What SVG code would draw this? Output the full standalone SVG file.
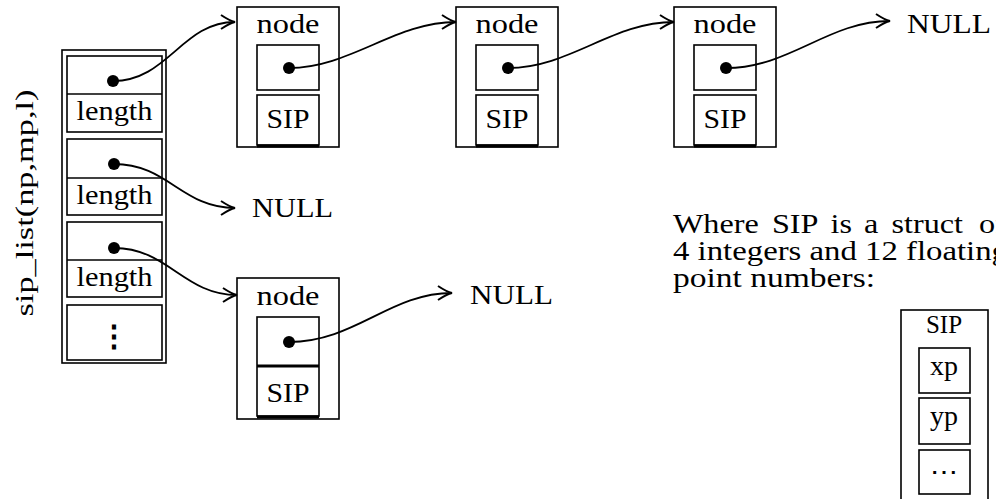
<svg xmlns="http://www.w3.org/2000/svg" width="996" height="499" viewBox="0 0 996 499">
<style>
.t{font-family:"Liberation Serif","DejaVu Serif",serif;fill:#000;}
.box{fill:none;stroke:#000;stroke-width:1.6;}
.thick{fill:none;stroke:#000;stroke-width:3;}
.dot{fill:#000;}
.conn{fill:none;stroke:#000;stroke-width:1.8;}
</style>
<defs>
<marker id="arr" markerUnits="userSpaceOnUse" markerWidth="20" markerHeight="20" viewBox="-16 -10 20 20" refX="0" refY="0" orient="auto">
<path d="M-14,-7 Q-5,-1 0,0 Q-5,1 -14,7" fill="none" stroke="#000" stroke-width="2"/>
</marker>
</defs>
<rect width="996" height="499" fill="#fff"/>

<text class="t" transform="translate(33,203) rotate(-90)" font-size="26" text-anchor="middle" textLength="227" lengthAdjust="spacingAndGlyphs">sip_list(np,mp,l)</text>

<g id="sip_list">
<rect class="box" x="62" y="50" width="104" height="313"/>
<rect class="box" x="67" y="56" width="95" height="76"/>
<line class="box" x1="67" y1="94" x2="162" y2="94"/>
<circle class="dot" cx="113" cy="81" r="6"/>
<text class="t" x="114.5" y="120" font-size="28" text-anchor="middle" textLength="76" lengthAdjust="spacingAndGlyphs">length</text>
<rect class="box" x="67" y="139" width="95" height="76"/>
<line class="box" x1="67" y1="178" x2="162" y2="178"/>
<circle class="dot" cx="114" cy="164" r="6"/>
<text class="t" x="114.5" y="204" font-size="28" text-anchor="middle" textLength="76" lengthAdjust="spacingAndGlyphs">length</text>
<rect class="box" x="67" y="222" width="95" height="75"/>
<line class="box" x1="67" y1="260" x2="162" y2="260"/>
<circle class="dot" cx="114" cy="248" r="6"/>
<text class="t" x="114.5" y="286" font-size="28" text-anchor="middle" textLength="76" lengthAdjust="spacingAndGlyphs">length</text>
<rect class="box" x="67" y="305" width="95" height="55"/>
<text x="114" y="346" font-family="DejaVu Serif, serif" font-size="30" font-weight="bold" text-anchor="middle">⋮</text>
</g>

<g id="node1" transform="translate(237,7)">
<rect class="box" x="0" y="0" width="102" height="140"/>
<text class="t" x="51" y="26" font-size="28" text-anchor="middle" textLength="63" lengthAdjust="spacingAndGlyphs">node</text>
<rect class="box" x="20" y="38" width="62" height="45"/>
<rect class="box" x="20" y="88" width="62" height="50"/>
<line class="thick" x1="20" y1="139" x2="82" y2="139"/>
<circle class="dot" cx="52" cy="61" r="6"/>
<text class="t" x="51" y="121" font-size="28" text-anchor="middle" textLength="43" lengthAdjust="spacingAndGlyphs">SIP</text>
</g>

<g id="node2" transform="translate(456,7)">
<rect class="box" x="0" y="0" width="102" height="140"/>
<text class="t" x="51" y="26" font-size="28" text-anchor="middle" textLength="63" lengthAdjust="spacingAndGlyphs">node</text>
<rect class="box" x="20" y="38" width="62" height="45"/>
<rect class="box" x="20" y="88" width="62" height="50"/>
<line class="thick" x1="20" y1="139" x2="82" y2="139"/>
<circle class="dot" cx="52" cy="61" r="6"/>
<text class="t" x="51" y="121" font-size="28" text-anchor="middle" textLength="43" lengthAdjust="spacingAndGlyphs">SIP</text>
</g>

<g id="node3" transform="translate(674,7)">
<rect class="box" x="0" y="0" width="102" height="140"/>
<text class="t" x="51" y="26" font-size="28" text-anchor="middle" textLength="63" lengthAdjust="spacingAndGlyphs">node</text>
<rect class="box" x="20" y="38" width="62" height="45"/>
<rect class="box" x="20" y="88" width="62" height="50"/>
<line class="thick" x1="20" y1="139" x2="82" y2="139"/>
<circle class="dot" cx="52" cy="61" r="6"/>
<text class="t" x="51" y="121" font-size="28" text-anchor="middle" textLength="43" lengthAdjust="spacingAndGlyphs">SIP</text>
</g>

<g id="node4" transform="translate(237,278)">
<rect class="box" x="0" y="0" width="102" height="141"/>
<text class="t" x="51" y="27" font-size="28" text-anchor="middle" textLength="63" lengthAdjust="spacingAndGlyphs">node</text>
<rect class="box" x="20" y="39" width="62" height="99"/>
<line class="thick" x1="20" y1="88" x2="82" y2="88"/>
<line class="thick" x1="20" y1="139" x2="82" y2="139"/>
<circle class="dot" cx="52" cy="64" r="6"/>
<text class="t" x="51" y="124" font-size="28" text-anchor="middle" textLength="43" lengthAdjust="spacingAndGlyphs">SIP</text>
</g>

<g id="null1"><text class="t" x="907" y="33" font-size="28" textLength="84" lengthAdjust="spacingAndGlyphs">NULL</text></g>
<g id="null2"><text class="t" x="252" y="217" font-size="28" textLength="81" lengthAdjust="spacingAndGlyphs">NULL</text></g>
<g id="null3"><text class="t" x="470" y="304" font-size="28" textLength="83" lengthAdjust="spacingAndGlyphs">NULL</text></g>

<g id="connectors">
<path class="conn" marker-end="url(#arr)" d="M113,81 C168,81 182,22 235,22"/>
<path class="conn" marker-end="url(#arr)" d="M289,68 C350,68 395,22 456,22"/>
<path class="conn" marker-end="url(#arr)" d="M508,68 C570,68 612,22 674,22"/>
<path class="conn" marker-end="url(#arr)" d="M726,68 C790,68 828,21 890,21"/>
<path class="conn" marker-end="url(#arr)" d="M114,164 C168,164 182,208 235,208"/>
<path class="conn" marker-end="url(#arr)" d="M114,248 C168,248 184,295 237,295"/>
<path class="conn" marker-end="url(#arr)" d="M289,342 C355,342 390,293 452,293"/>
</g>

<g id="note">
<text class="t" transform="translate(673,233) scale(1.15,1)" font-size="28"><tspan x="0">Where</tspan><tspan x="86">SIP</tspan><tspan x="137">is</tspan><tspan x="166">a</tspan><tspan x="190">struct</tspan><tspan x="266">of</tspan></text>
<text class="t" x="673" y="260" font-size="28" textLength="335" lengthAdjust="spacingAndGlyphs">4 integers and 12 floating</text>
<text class="t" x="673" y="287" font-size="28" textLength="202" lengthAdjust="spacingAndGlyphs">point numbers:</text>
</g>

<g id="sip_struct">
<rect class="box" x="901" y="310" width="87" height="195"/>
<text class="t" x="944" y="333" font-size="25" text-anchor="middle">SIP</text>
<rect class="box" x="919" y="348" width="51" height="45"/>
<text class="t" x="944" y="375" font-size="28" text-anchor="middle">xp</text>
<rect class="box" x="919" y="398" width="51" height="46"/>
<text class="t" x="944" y="425" font-size="28" text-anchor="middle">yp</text>
<rect class="box" x="919" y="450" width="51" height="44"/>
<text x="944" y="481" font-family="DejaVu Serif, serif" font-size="28" text-anchor="middle">⋯</text>
</g>
</svg>
